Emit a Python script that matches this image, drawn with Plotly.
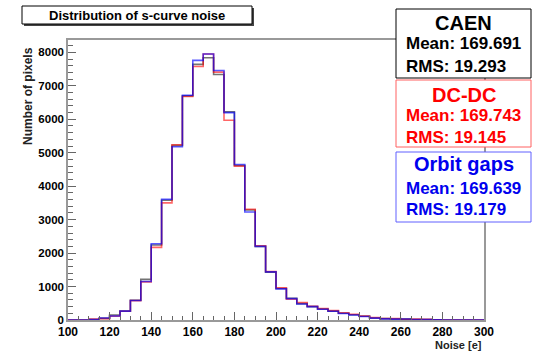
import plotly.graph_objects as go

# Bin edges (5 e wide) from 100 to 300
bin_lo = 100
bin_w = 5
n_bins = 40

caen = [0, 0, 10, 50, 150, 270, 590, 1215, 2240, 3580,
        5220, 6700, 7640, 7840, 7340, 6220, 4620, 3290, 2200, 1430,
        940, 650, 490, 400, 330, 265, 200, 155, 110, 60,
        40, 30, 25, 15, 10, 5, 0, 0, 0, 0]
dcdc = [0, 0, 30, 40, 110, 260, 580, 1140, 2170, 3500,
        5240, 6680, 7580, 7950, 7410, 5970, 4600, 3310, 2220, 1450,
        960, 620, 520, 410, 340, 280, 215, 170, 115, 70,
        45, 40, 20, 25, 20, 5, 0, 0, 0, 0]
orbit = [0, 0, 15, 60, 120, 265, 585, 1150, 2280, 3610,
         5180, 6720, 7760, 7950, 7460, 6200, 4650, 3230, 2200, 1440,
         930, 640, 480, 400, 320, 260, 195, 150, 105, 55,
         35, 25, 30, 10, 10, 5, 0, 0, 0, 0]

series_names = ["CAEN", "DC-DC", "Orbit gaps"]
series_means = ["169.691", "169.743", "169.639"]
series_rms = ["19.293", "19.145", "19.179"]
series_colors = ["rgba(0,0,0,0.55)", "rgba(255,0,0,0.6)", "rgba(0,0,255,0.65)"]
text_colors = ["#000000", "#ff0000", "#0000ee"]
border_colors = ["#000000", "#ff6060", "#6060ff"]

x_ticks = list(range(100, 301, 20))
y_ticks = list(range(0, 8001, 1000))

edges = [bin_lo + i * bin_w for i in range(n_bins + 1)]

fig = go.Figure()
for vals, name, col in zip([caen, dcdc, orbit], series_names, series_colors):
    fig.add_trace(go.Scatter(
        x=edges, y=vals + [vals[-1]], mode="lines", line_shape="hv",
        line=dict(color=col, width=1.6), name=name, showlegend=False,
        hoverinfo="skip"))

W, H = 533, 351
L, R, T, B = 68, 484, 40, 320


def px(x):
    return (x - L) / (R - L)


def py(y):
    return (B - y) / (B - T)


FONT = "Liberation Sans, Arial, sans-serif"
shapes = []
annotations = []

# Title box with shadow
shapes.append(dict(type="rect", xref="paper", yref="paper",
                   x0=px(24), x1=px(254), y0=py(26), y1=py(8),
                   fillcolor="#444444", line=dict(width=0), layer="above"))
shapes.append(dict(type="rect", xref="paper", yref="paper",
                   x0=px(22), x1=px(252), y0=py(24), y1=py(6),
                   fillcolor="white", line=dict(color="black", width=1), layer="above"))
annotations.append(dict(xref="paper", yref="paper", x=px(137), y=py(15),
                        text="<b>Distribution of s-curve noise</b>", showarrow=False,
                        font=dict(family=FONT, size=13, color="black"),
                        xanchor="center", yanchor="middle"))

# Stats boxes
boxes = [(9, 78, 23, 43.5, 66), (80, 147, 95, 115.5, 137), (152, 222, 163.5, 188, 209.5)]
for i, (y0, y1, yt, ym, yr) in enumerate(boxes):
    shapes.append(dict(type="rect", xref="paper", yref="paper",
                       x0=px(396), x1=px(531), y0=py(y1), y1=py(y0),
                       fillcolor="white", line=dict(color=border_colors[i], width=1),
                       layer="above"))
    annotations.append(dict(xref="paper", yref="paper", x=px(463.5), y=py(yt),
                            text="<b>%s</b>" % series_names[i], showarrow=False,
                            font=dict(family=FONT, size=20, color=text_colors[i]),
                            xanchor="center", yanchor="middle"))
    annotations.append(dict(xref="paper", yref="paper", x=px(404), y=py(ym),
                            text="<b>Mean: %s</b>" % series_means[i], showarrow=False,
                            font=dict(family=FONT, size=17, color=text_colors[i]),
                            xanchor="left", yanchor="middle"))
    annotations.append(dict(xref="paper", yref="paper", x=px(404), y=py(yr),
                            text="<b>RMS: %s</b>" % series_rms[i], showarrow=False,
                            font=dict(family=FONT, size=17, color=text_colors[i]),
                            xanchor="left", yanchor="middle"))

# Axis titles
annotations.append(dict(xref="paper", yref="paper", x=px(484), y=py(337),
                        text="<b>Noise [e]</b>", showarrow=False,
                        font=dict(family=FONT, size=11, color="#222222"),
                        xanchor="right", yanchor="top"))
annotations.append(dict(xref="paper", yref="paper", x=px(28), y=py(45),
                        text="<b>Number of pixels</b>", showarrow=False, textangle=-90,
                        font=dict(family=FONT, size=12, color="#222222"),
                        xanchor="center", yanchor="top"))

fig.update_layout(
    width=W, height=H,
    margin=dict(l=L, r=W - R, t=T, b=H - B, pad=0),
    paper_bgcolor="white", plot_bgcolor="white",
    shapes=shapes, annotations=annotations,
    xaxis=dict(range=[100, 300], tickvals=x_ticks, ticktext=[str(v) for v in x_ticks],
               ticks="inside", ticklen=8, tickcolor="#666666", tickwidth=1,
               minor=dict(dtick=5, tick0=100, ticks="inside", ticklen=4, tickcolor="#666666"),
               showgrid=False, zeroline=False, showline=True, linecolor="#999999",
               linewidth=1.5, mirror=True,
               tickfont=dict(family=FONT, size=12, color="black", weight="bold")),
    yaxis=dict(range=[0, 8370], tickvals=y_ticks, ticktext=[str(v) for v in y_ticks],
               ticks="inside", ticklen=8, tickcolor="#666666", tickwidth=1,
               minor=dict(dtick=200, tick0=0, ticks="inside", ticklen=5, tickcolor="#666666"),
               showgrid=False, zeroline=False, showline=True, linecolor="#999999",
               linewidth=1.5, mirror=True,
               tickfont=dict(family=FONT, size=11.5, color="black", weight="bold")),
)

# Remove the default page margin so the figure sits at the window's corner.
fig.write_html("out.html", config={"displayModeBar": False},
               post_script="document.body.style.margin='0';")
